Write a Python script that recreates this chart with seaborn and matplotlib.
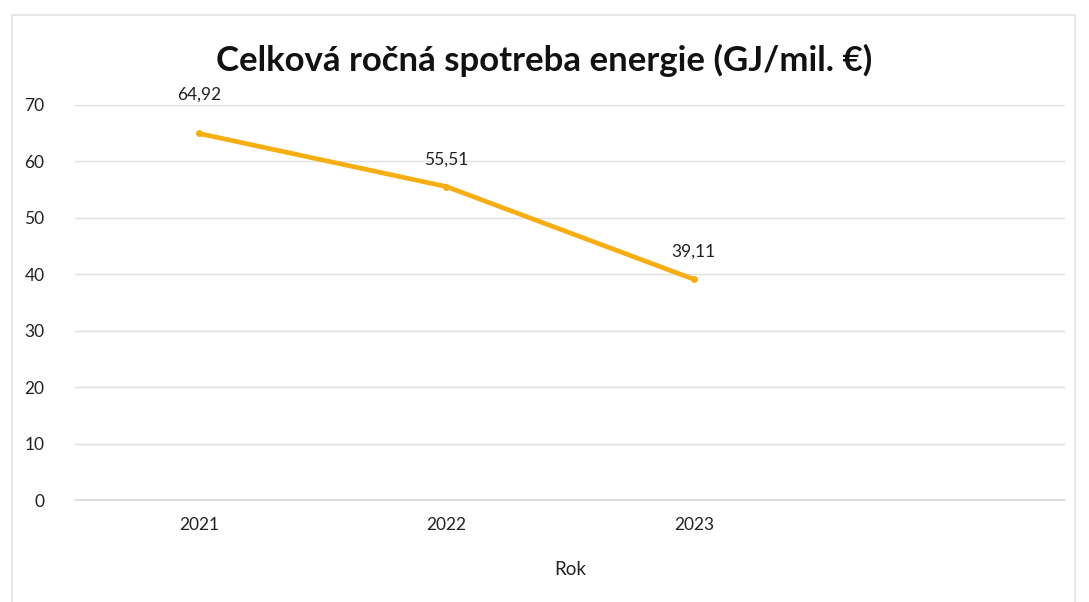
import matplotlib
matplotlib.use("Agg")
import matplotlib.pyplot as plt
import seaborn as sns
import pandas as pd
from matplotlib.patches import Rectangle

# data
years = ["2021", "2022", "2023"]
values = [64.92, 55.51, 39.11]
y_ticks = [0, 10, 20, 30, 40, 50, 60, 70]

sns.set_theme(style="white")
plt.rcParams['font.family'] = ['Lato', 'DejaVu Sans']

df = pd.DataFrame({'pos': range(len(years)), 'value': values})

fig = plt.figure(figsize=(10.89, 6.02), dpi=100)
ax = fig.add_axes([0.069, 0.169, 0.909, 0.657])

# light chart border like the Excel frame
fig.patches.append(Rectangle((12 / 1089, -0.01), 1063 / 1089, 1 - 15 / 602 + 0.01,
                             transform=fig.transFigure, fill=False,
                             edgecolor='#e3e3e3', linewidth=1.2))

ax.axhline(0, color='#d9d9d9', linewidth=1.2, clip_on=False, zorder=1)

sns.lineplot(data=df, x='pos', y='value', ax=ax, color='#F7AE12', linewidth=3.4,
             marker='o', markersize=5, markeredgewidth=0, clip_on=False, zorder=3)

# label offsets in points (first label sits a bit higher in the original)
label_offsets = [22, 14, 14]
for i, v in enumerate(values):
    ax.annotate(f"{v:.2f}".replace('.', ','), (i, v), xytext=(0, label_offsets[i]),
                textcoords='offset points', ha='center', va='bottom',
                fontsize=12.5, color='#222222')

ax.set_xlim(-0.5, 3.5)
ax.set_ylim(0, 70)
ax.set_yticks(y_ticks)
ax.set_xticks(range(len(years)))
ax.set_xticklabels(years)
ax.tick_params(axis='both', labelsize=12.5, colors='#222222', length=0)
ax.tick_params(axis='y', pad=22)
ax.tick_params(axis='x', pad=12)
ax.grid(axis='y', color='#e0e0e0', linewidth=1)
ax.grid(axis='x', visible=False)
for s in ax.spines.values():
    s.set_visible(False)

ax.set_xlabel("Rok", fontsize=13.5, color='#222222', labelpad=20)
ax.set_ylabel("")
fig.text(0.5, 0.9, "Celková ročná spotreba energie (GJ/mil. €)", ha='center',
         va='center', fontsize=25, fontweight='bold', color='#111111')

fig.savefig("out.png", dpi=100)
